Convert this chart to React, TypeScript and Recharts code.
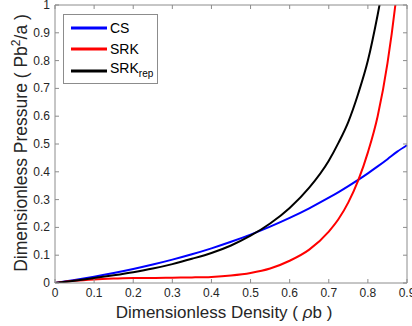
import React from "react";
import { LineChart, Line, XAxis, YAxis, Legend } from "recharts";

// values
const DENSITY = [0, 0.05, 0.1, 0.15, 0.2, 0.25, 0.3, 0.35, 0.4, 0.45, 0.5, 0.55, 0.6, 0.65, 0.7, 0.725, 0.75, 0.775, 0.8, 0.825, 0.85, 0.875, 0.9];
const CS = [0, 0.0108, 0.0227, 0.0358, 0.0503, 0.0663, 0.084, 0.1033, 0.1247, 0.1483, 0.1742, 0.2027, 0.2341, 0.2688, 0.3068, 0.327, 0.3486, 0.371, 0.3946, 0.4193, 0.4453, 0.4725, 0.4955];
const SRK = [0, 0.008, 0.013, 0.016, 0.018, 0.018, 0.019, 0.02, 0.022, 0.027, 0.036, 0.052, 0.08, 0.12, 0.185, 0.23, 0.29, 0.368, 0.47, 0.6, 0.79, 1.06, 1.45];
const SRK_REP = [0, 0.0085, 0.018, 0.028, 0.039, 0.052, 0.068, 0.087, 0.108, 0.135, 0.17, 0.214, 0.27, 0.343, 0.44, 0.505, 0.58, 0.68, 0.8, 0.965, 1.16, null, null];

const X_TICKS = [0, 0.1, 0.2, 0.3, 0.4, 0.5, 0.6, 0.7, 0.8, 0.9];
const Y_TICKS = [0, 0.1, 0.2, 0.3, 0.4, 0.5, 0.6, 0.7, 0.8, 0.9, 1];

const data = DENSITY.map((x, i) => ({ x, cs: CS[i], srk: SRK[i], rep: SRK_REP[i] }));

const FONT = "'Liberation Sans', Arial, Helvetica, sans-serif";
const AXIS = "#8c8c8c";
const TEXT = "#262626";
const TICK_LEN = 4;

const BottomTick = ({ x, y, payload }: any) => (
  <g>
    <line x1={x} x2={x} y1={y} y2={y - TICK_LEN} stroke={AXIS} />
    <text x={x} y={y + 14} textAnchor="middle" fontSize={12} fontFamily={FONT} fill={TEXT}>
      {String(payload.value)}
    </text>
  </g>
);

const LeftTick = ({ x, y, payload }: any) => (
  <g>
    <line x1={x} x2={x + TICK_LEN} y1={y} y2={y} stroke={AXIS} />
    <text x={x - 5} y={y + 4} textAnchor="end" fontSize={12} fontFamily={FONT} fill={TEXT}>
      {String(payload.value)}
    </text>
  </g>
);

const TopTick = ({ x, y }: any) => <line x1={x} x2={x} y1={y} y2={y + TICK_LEN} stroke={AXIS} />;
const RightTick = ({ x, y }: any) => <line x1={x} x2={x - TICK_LEN} y1={y} y2={y} stroke={AXIS} />;

const SERIES = [
  { key: "cs", color: "#0000ff", label: <>CS</> },
  { key: "srk", color: "#ff0000", label: <>SRK</> },
  {
    key: "rep",
    color: "#000000",
    label: (
      <>
        SRK<sub style={{ fontSize: 10, verticalAlign: -4 }}>rep</sub>
      </>
    ),
  },
];

const LegendBox = () => (
  <div
    style={{
      width: 95,
      height: 70,
      border: "1px solid #8c8c8c",
      background: "#fff",
      boxSizing: "border-box",
      paddingTop: 2,
      fontFamily: FONT,
      fontSize: 14,
      color: "#000",
    }}
  >
    {SERIES.map((s) => (
      <div key={s.key} style={{ display: "flex", alignItems: "center", height: 21.5, lineHeight: "14px" }}>
        <svg width={46} height={8} style={{ flex: "none" }}>
          <line x1={7} x2={43} y1={4} y2={4} stroke={s.color} strokeWidth={2.8} />
        </svg>
        <span>{s.label}</span>
      </div>
    ))}
  </div>
);

const YTitle = () => (
  <text
    transform="rotate(-90)"
    x={-143}
    y={27}
    textAnchor="middle"
    fontSize={17.5}
    fontFamily={FONT}
    fill={TEXT}
  >
    {"Dimensionless Pressure ( Pb"}
    <tspan baselineShift="super" fontSize={12}>2</tspan>
    {"/a )"}
  </text>
);

const XTitle = () => (
  <text x={224} y={318} textAnchor="middle" fontSize={17} fontFamily={FONT} fill={TEXT}>
    {"Dimensionless Density ( "}
    <tspan fontStyle="italic">ρ</tspan>
    {"b )"}
  </text>
);

export default function App() {
  return (
    <div style={{ position: "absolute", left: 0, top: 0, width: 412, height: 326, background: "#fff" }}>
      <LineChart width={412} height={326} data={data} margin={{ top: 0, right: 0, bottom: 0, left: 0 }}>
        <XAxis
          xAxisId="bottom"
          type="number"
          dataKey="x"
          domain={[0, 0.9]}
          ticks={X_TICKS}
          interval={0}
          height={43}
          tickSize={0}
          tickMargin={0}
          tickLine={false}
          tick={<BottomTick />}
          axisLine={{ stroke: AXIS }}
          label={{ content: () => <XTitle /> }}
        />
        <XAxis
          xAxisId="top"
          orientation="top"
          type="number"
          dataKey="x"
          domain={[0, 0.9]}
          ticks={X_TICKS}
          interval={0}
          height={5}
          tickSize={0}
          tickMargin={0}
          tickLine={false}
          tick={<TopTick />}
          axisLine={{ stroke: AXIS }}
        />
        <YAxis
          yAxisId="left"
          type="number"
          domain={[0, 1]}
          ticks={Y_TICKS}
          interval={0}
          allowDataOverflow
          width={55}
          tickSize={0}
          tickMargin={0}
          tickLine={false}
          tick={<LeftTick />}
          axisLine={{ stroke: AXIS }}
          label={{ content: () => <YTitle /> }}
        />
        <YAxis
          yAxisId="right"
          orientation="right"
          type="number"
          domain={[0, 1]}
          ticks={Y_TICKS}
          interval={0}
          allowDataOverflow
          width={5}
          tickSize={0}
          tickMargin={0}
          tickLine={false}
          tick={<RightTick />}
          axisLine={{ stroke: AXIS }}
        />
        <Legend
          layout="vertical"
          align="center"
          verticalAlign="middle"
          content={<LegendBox />}
          wrapperStyle={{ left: 63, top: 14, width: 95, height: 70 }}
        />
        {SERIES.map((s) => (
          <Line
            key={s.key}
            xAxisId="bottom"
            yAxisId="left"
            type="monotone"
            dataKey={s.key}
            stroke={s.color}
            strokeWidth={2}
            dot={false}
            activeDot={false}
            isAnimationActive={false}
          />
        ))}
      </LineChart>
    </div>
  );
}
